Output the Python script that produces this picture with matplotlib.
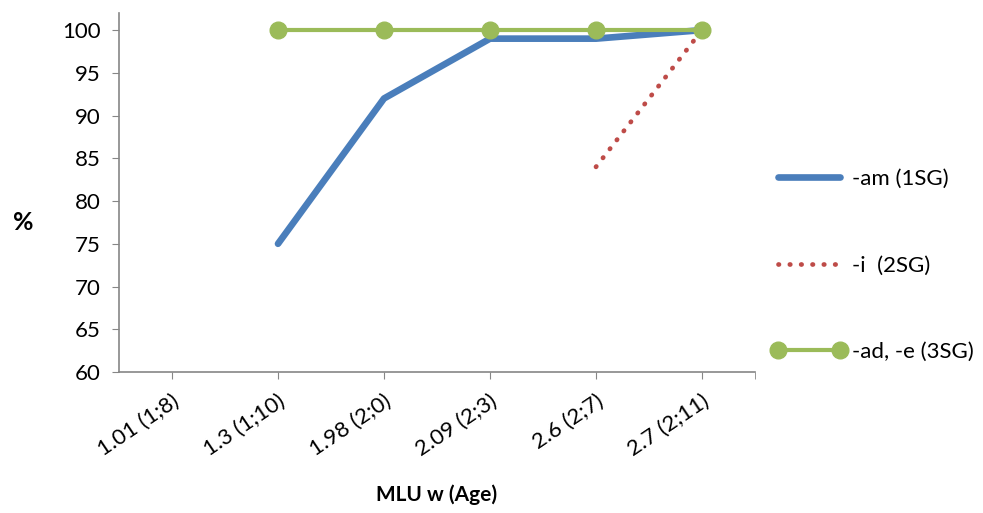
import numpy as np
import matplotlib
matplotlib.use("Agg")
import matplotlib.pyplot as plt

plt.rcParams['font.family'] = ['Lato', 'DejaVu Sans']

categories = ["1.01 (1;8)", "1.3 (1;10)", "1.98 (2;0)", "2.09 (2;3)", "2.6 (2;7)", "2.7 (2;11)"]
am_1sg = [np.nan, 75, 92, 99, 99, 100]
i_2sg = [np.nan, np.nan, np.nan, np.nan, 84, 100]
ad_e_3sg = [np.nan, 100, 100, 100, 100, 100]
y_ticks = [60, 65, 70, 75, 80, 85, 90, 95, 100]

fig = plt.figure(figsize=(9.83, 5.13), dpi=100)
ax = fig.add_axes([119/983, 1 - 372/513, (755-119)/983, (372-13)/513])

x = np.arange(len(categories))
ax.plot(x, am_1sg, color="#4A7EBB", lw=4.8, solid_capstyle='round', solid_joinstyle='round', label="-am (1SG)")
ax.plot(x, i_2sg, color="#BE4B48", lw=3.4, linestyle=(0, (0.1, 2.3)), dash_capstyle='round', label="-i  (2SG)")
ax.plot(x, ad_e_3sg, color="#9BBB59", lw=3, marker='o', markersize=12, label="-ad, -e (3SG)")

ax.set_xlim(-0.5, 5.5)
ax.set_ylim(60, 102)
ax.set_yticks(y_ticks)
ax.set_xticks(x)
ax.set_xticks([5.5], minor=True)
ax.set_xticklabels(categories, rotation=34, ha='right', rotation_mode='anchor', fontsize=16)
ax.tick_params(axis='y', labelsize=16, length=5, color="#868686", pad=8)
ax.tick_params(axis='x', which='both', length=5, color="#868686", direction='out', pad=9)
for s in ['top', 'right']:
    ax.spines[s].set_visible(False)
for s in ['left', 'bottom']:
    ax.spines[s].set_color("#868686")
    ax.spines[s].set_linewidth(1.2)

fig.text(23/983, 1 - 222/513, "%", fontsize=18, fontweight='bold', ha='center', va='center')
fig.text(437/983, 1 - 495/513, "MLU w (Age)", fontsize=15, fontweight='bold', ha='center', va='center')

leg = fig.legend(loc='upper left', bbox_to_anchor=(762/983, 1 - 160/513), frameon=False,
                 fontsize=16, handlelength=3.4, labelspacing=3.0, handletextpad=0.25, numpoints=2,
                 borderaxespad=0)

fig.savefig("out.png", dpi=100)
